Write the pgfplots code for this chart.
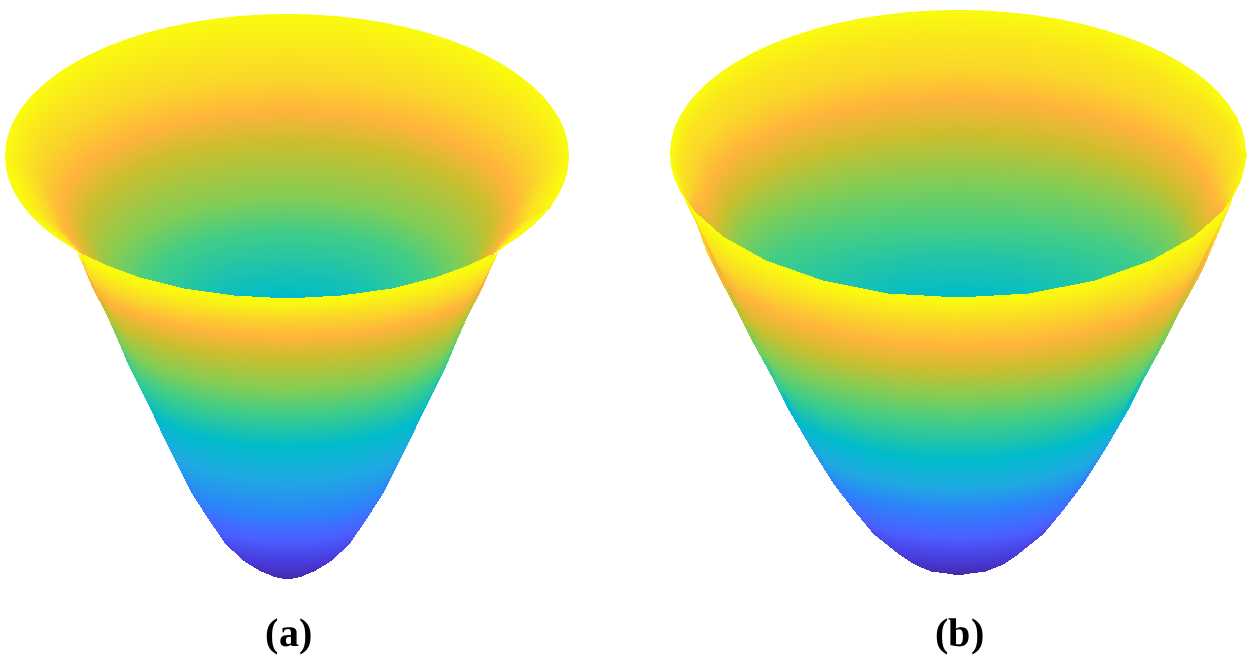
\documentclass[border=0pt]{standalone}
\usepackage{fontspec}
\setmainfont{Liberation Serif}
\usepackage{pgfplots}
\pgfplotsset{compat=1.18}
\definecolor{rimy}{RGB}{250,250,15}
\pgfplotsset{
  colormap={bowl}{
    rgb255(0)=(70,40,170) rgb255(6)=(72,60,220) rgb255(12)=(75,95,255)
    rgb255(20)=(45,130,250) rgb255(35)=(30,170,225) rgb255(45)=(0,187,203)
    rgb255(55)=(65,205,135) rgb255(65)=(130,205,85) rgb255(75)=(205,190,45)
    rgb255(85)=(255,180,60) rgb255(93)=(250,215,40) rgb255(100)=(250,250,15)
  },
}
\begin{document}
\begin{tikzpicture}
\begin{axis}[
    scale only axis,
    width=1250pt, height=658pt,
    xmin=0, xmax=1250, ymin=0, ymax=658, zmin=0, zmax=1,
    y dir=reverse,
    view={0}{90},
    hide axis,
    clip=false,
    colormap name=bowl,
    point meta min=0, point meta max=1,
]
\path (axis cs:0,0,0) rectangle (axis cs:1250,658,0);
% (a) rim
\addplot3[draw=none, fill=rimy] coordinates {
(5,156,1) (6.1,143.6,1) (9.2,131.3,1) (14.6,119.2,1) (22,107.4,1) (31.4,96,1) (42.8,85,1) (56,74.6,1) (71,64.7,1) (87.6,55.6,1) (105.7,47.2,1) (125.2,39.7,1) (146,33,1) (167.8,27.3,1) (190.6,22.5,1) (214,18.8,1) (238,16.1,1) (262.4,14.5,1) (287,14,1)
(311.6,14.5,1) (336,16.1,1) (360,18.8,1) (383.4,22.5,1) (406.2,27.3,1) (428,33,1) (448.8,39.7,1) (468.3,47.2,1) (486.4,55.6,1) (503,64.7,1) (518,74.6,1) (531.2,85,1) (542.6,96,1) (552,107.4,1) (559.4,119.2,1) (564.8,131.3,1) (567.9,143.6,1) (569,156,1)
(567.9,168.4,1) (564.8,180.7,1) (559.4,192.8,1) (552,204.6,1) (542.6,216,1) (531.2,227,1) (518,237.4,1) (503,247.3,1) (486.4,256.4,1) (468.3,264.8,1) (448.8,272.3,1) (428,279,1) (406.2,284.7,1) (383.4,289.5,1) (360,293.2,1) (336,295.9,1) (311.6,297.5,1) (287,298,1)
(262.4,297.5,1) (238,295.9,1) (214,293.2,1) (190.6,289.5,1) (167.8,284.7,1) (146,279,1) (125.2,272.3,1) (105.7,264.8,1) (87.6,256.4,1) (71,247.3,1) (56,237.4,1) (42.8,227,1) (31.4,216,1) (22,204.6,1) (14.6,192.8,1) (9.2,180.7,1) (6.1,168.4,1)
};
% (a) inside of the bowl
\addplot3[surf, shader=interp, mesh/cols=17] coordinates {
(78,252,1) (24,207,1) (5,156,1) (15,119,1) (43,85,1) (88,56,1) (146,33,1) (214,19,1) (287,14,1) (360,19,1) (428,33,1) (486,56,1) (531,85,1) (559,119,1) (569,156,1) (550,207,1) (496,252,1)
(79,252,.96) (42,215,.96) (22,165,.96) (31,135,.96) (57.5,107.5,.96) (100,83.7,.96) (154.5,65.4,.96) (218.4,53.9,.96) (287,50,.96) (355.6,53.9,.96) (419.5,65.4,.96) (474,83.7,.96) (516.5,107.5,.96) (543,135,.96) (552,165,.96) (532,215,.96) (495,252,.96)
(80,252,.93) (51,220,.93) (37,175,.93) (45.5,149.9,.93) (70.5,126.5,.93) (110.2,106.4,.93) (162,91,.93) (222.2,81.3,.93) (287,78,.93) (351.8,81.3,.93) (412,91,.93) (463.8,106.4,.93) (503.5,126.5,.93) (528.5,149.9,.93) (537,175,.93) (523,220,.93) (494,252,.93)
(82,254,.85) (67,232,.85) (62,205,.85) (69.6,180.4,.85) (92.1,157.5,.85) (128,137.8,.85) (174.5,122.7,.85) (228.7,113.2,.85) (287,110,.85) (345.3,113.2,.85) (399.5,122.7,.85) (446,137.8,.85) (481.9,157.5,.85) (504.4,180.4,.85) (512,205,.85) (507,232,.85) (492,254,.85)
(95,263,.75) (87,245,.75) (82,225,.75) (89,203,.75) (109.5,182.5,.75) (142,164.9,.75) (184.5,151.4,.75) (233.9,142.9,.75) (287,140,.75) (340.1,142.9,.75) (389.5,151.4,.75) (432,164.9,.75) (464.5,182.5,.75) (485,203,.75) (492,225,.75) (487,245,.75) (479,263,.75)
(112,274,.65) (112,273,.65) (112,272,.65) (118,252.6,.65) (135.4,234.5,.65) (163.3,219,.65) (199.5,207,.65) (241.7,199.6,.65) (287,197,.65) (332.3,199.6,.65) (374.5,207,.65) (410.7,219,.65) (438.6,234.5,.65) (456,252.6,.65) (462,272,.65) (462,273,.65) (462,274,.65)
(150,287,.55) (150,286,.55) (150,285,.55) (154.7,270.8,.55) (168.4,257.5,.55) (190.1,246.1,.55) (218.5,237.4,.55) (251.5,231.9,.55) (287,230,.55) (322.5,231.9,.55) (355.5,237.4,.55) (383.9,246.1,.55) (405.6,257.5,.55) (419.3,270.8,.55) (424,285,.55) (424,286,.55) (424,287,.55)
(195,296,.5) (195,295,.5) (195,294,.5) (198.1,286,.5) (207.3,278.5,.5) (222,272.1,.5) (241,267.2,.5) (263.2,264.1,.5) (287,263,.5) (310.8,264.1,.5) (333,267.2,.5) (352,272.1,.5) (366.7,278.5,.5) (375.9,286,.5) (379,294,.5) (379,295,.5) (379,296,.5)
(247,302,.45) (247,301,.45) (247,300,.45) (248.4,299.5,.45) (252.4,299,.45) (258.7,298.6,.45) (267,298.3,.45) (276.6,298.1,.45) (287,298,.45) (297.4,298.1,.45) (307,298.3,.45) (315.3,298.6,.45) (321.6,299,.45) (325.6,299.5,.45) (327,300,.45) (327,301,.45) (327,302,.45)
};
% (a) outside of the bowl
\addplot3[surf, shader=interp, mesh/cols=13] coordinates {
(281,577,0) (281.2,577.3,0) (281.8,577.5,0) (282.8,577.7,0) (284,577.9,0) (285.4,578,0) (287,578,0) (288.6,578,0) (290,577.9,0) (291.2,577.7,0) (292.2,577.5,0) (292.8,577.3,0) (293,577,0)
(273,575.5,.01) (273.5,575.9,.01) (274.9,576.3,.01) (277.1,576.6,.01) (280,576.8,.01) (283.4,576.9,.01) (287,577,.01) (290.6,576.9,.01) (294,576.8,.01) (296.9,576.6,.01) (299.1,576.3,.01) (300.5,575.9,.01) (301,575.5,.01)
(257,568,.02) (258,569.3,.02) (261,570.5,.02) (265.8,571.5,.02) (272,572.3,.02) (279.2,572.8,.02) (287,573,.02) (294.8,572.8,.02) (302,572.3,.02) (308.2,571.5,.02) (313,570.5,.02) (316,569.3,.02) (317,568,.02)
(240,557,.05) (241.6,559.3,.05) (246.3,561.5,.05) (253.8,563.4,.05) (263.5,564.8,.05) (274.8,565.7,.05) (287,566,.05) (299.2,565.7,.05) (310.5,564.8,.05) (320.2,563.4,.05) (327.7,561.5,.05) (332.4,559.3,.05) (334,557,.05)
(223,540,.09) (225.2,542.6,.09) (231.6,545,.09) (241.8,547.1,.09) (255,548.7,.09) (270.4,549.7,.09) (287,550,.09) (303.6,549.7,.09) (319,548.7,.09) (332.2,547.1,.09) (342.4,545,.09) (348.8,542.6,.09) (351,540,.09)
(203,510,.15) (205.9,514.9,.15) (214.3,519.5,.15) (227.6,523.4,.15) (245,526.5,.15) (265.2,528.4,.15) (287,529,.15) (308.8,528.4,.15) (329,526.5,.15) (346.4,523.4,.15) (359.7,519.5,.15) (368.1,514.9,.15) (371,510,.15)
(187,482,.22) (190.4,489.5,.22) (200.4,496.5,.22) (216.3,502.5,.22) (237,507.1,.22) (261.1,510,.22) (287,511,.22) (312.9,510,.22) (337,507.1,.22) (357.7,502.5,.22) (373.6,496.5,.22) (383.6,489.5,.22) (387,482,.22)
(173,455,.32) (176.9,463,.32) (188.3,470.5,.32) (206.4,476.9,.32) (230,481.8,.32) (257.5,484.9,.32) (287,486,.32) (316.5,484.9,.32) (344,481.8,.32) (367.6,476.9,.32) (385.7,470.5,.32) (397.1,463,.32) (401,455,.32)
(161,430,.38) (165.3,439.8,.38) (177.9,449,.38) (197.9,456.9,.38) (224,462.9,.38) (254.4,466.7,.38) (287,468,.38) (319.6,466.7,.38) (350,462.9,.38) (376.1,456.9,.38) (396.1,449,.38) (408.7,439.8,.38) (413,430,.38)
(149,405,.45) (153.7,415.9,.45) (167.5,426,.45) (189.4,434.7,.45) (218,441.4,.45) (251.3,445.6,.45) (287,447,.45) (322.7,445.6,.45) (356,441.4,.45) (384.6,434.7,.45) (406.5,426,.45) (420.3,415.9,.45) (425,405,.45)
(123,350,.55) (128.6,366.3,.55) (145,381.5,.55) (171.1,394.5,.55) (205,404.6,.55) (244.5,410.9,.55) (287,413,.55) (329.5,410.9,.55) (369,404.6,.55) (402.9,394.5,.55) (429,381.5,.55) (445.4,366.3,.55) (451,350,.55)
(112,322,.65) (118,339.6,.65) (135.4,356,.65) (163.3,370.1,.65) (199.5,380.9,.65) (241.7,387.7,.65) (287,390,.65) (332.3,387.7,.65) (374.5,380.9,.65) (410.7,370.1,.65) (438.6,356,.65) (456,339.6,.65) (462,322,.65)
(100,297,.75) (106.4,312.5,.75) (125.1,327,.75) (154.8,339.4,.75) (193.5,349,.75) (238.6,355,.75) (287,357,.75) (335.4,355,.75) (380.5,349,.75) (419.2,339.4,.75) (448.9,327,.75) (467.6,312.5,.75) (474,297,.75)
(86,272,.85) (92.8,288.8,.85) (112.9,304.5,.85) (144.9,318,.85) (186.5,328.3,.85) (234.9,334.8,.85) (287,337,.85) (339.1,334.8,.85) (387.5,328.3,.85) (429.1,318,.85) (461.1,304.5,.85) (481.2,288.8,.85) (488,272,.85)
(82,262,.93) (89,276.5,.93) (109.5,290,.93) (142.1,301.6,.93) (184.5,310.5,.93) (233.9,316.1,.93) (287,318,.93) (340.1,316.1,.93) (389.5,310.5,.93) (431.9,301.6,.93) (464.5,290,.93) (485,276.5,.93) (492,262,.93)
(79,257,1) (86,260,1) (107,270,1) (140,282,1) (183,292,1) (233,299,1) (287,303,1) (341,299,1) (391,292,1) (434,282,1) (467,270,1) (488,260,1) (495,257,1)
(78,253,1) (85,255,1) (106,265,1) (139,277,1) (182.5,288,1) (233,295,1) (287,298,1) (341,295,1) (391.5,288,1) (435,277,1) (468,265,1) (489,255,1) (496,253,1)
};
% (b) rim
\addplot3[draw=none, fill=rimy] coordinates {
(670,153.5,1) (671.1,141,1) (674.3,128.5,1) (679.8,116.4,1) (687.4,104.4,1) (697,92.9,1) (708.6,81.7,1) (722.1,71.2,1) (737.4,61.2,1) (754.4,52,1) (772.8,43.6,1) (792.8,36,1) (814,29.2,1) (836.3,23.4,1) (859.5,18.6,1) (883.5,14.9,1) (908,12.1,1) (932.9,10.5,1) (958,10,1)
(983.1,10.5,1) (1008,12.1,1) (1032.5,14.9,1) (1056.5,18.6,1) (1079.7,23.4,1) (1102,29.2,1) (1123.2,36,1) (1143.2,43.6,1) (1161.6,52,1) (1178.6,61.2,1) (1193.9,71.2,1) (1207.4,81.7,1) (1219,92.9,1) (1228.6,104.4,1) (1236.2,116.4,1) (1241.7,128.5,1) (1244.9,141,1) (1246,153.5,1)
(1244.9,166,1) (1241.7,178.5,1) (1236.2,190.6,1) (1228.6,202.6,1) (1219,214.1,1) (1207.4,225.3,1) (1193.9,235.8,1) (1178.6,245.8,1) (1161.6,255,1) (1143.2,263.4,1) (1123.2,271,1) (1102,277.8,1) (1079.7,283.6,1) (1056.5,288.4,1) (1032.5,292.1,1) (1008,294.9,1) (983.1,296.5,1) (958,297,1)
(932.9,296.5,1) (908,294.9,1) (883.5,292.1,1) (859.5,288.4,1) (836.3,283.6,1) (814,277.8,1) (792.8,271,1) (772.8,263.4,1) (754.4,255,1) (737.4,245.8,1) (722.1,235.8,1) (708.6,225.3,1) (697,214.1,1) (687.4,202.6,1) (679.8,190.6,1) (674.3,178.5,1) (671.1,166,1)
};
% (b) inside of the bowl
\addplot3[surf, shader=interp, mesh/cols=17] coordinates {
(685,199,1) (676,180,1) (670,153.5,1) (679.8,116.3,1) (708.6,81.8,1) (754.4,52,1) (814,29.2,1) (883.4,14.9,1) (958,10,1) (1032.6,14.9,1) (1102,29.2,1) (1161.6,52,1) (1207.4,81.8,1) (1236.2,116.3,1) (1246,153.5,1) (1240,180,1) (1231,199,1)
(686,201,.96) (682,185,.96) (678,160,.96) (687.5,128.4,.96) (715.5,99,.96) (760,73.7,.96) (818,54.3,.96) (885.5,42.1,.96) (958,38,.96) (1030.5,42.1,.96) (1098,54.3,.96) (1156,73.7,.96) (1200.5,99,.96) (1228.5,128.4,.96) (1238,160,.96) (1234,185,.96) (1230,201,.96)
(687,203,.93) (690,190,.93) (690,175,.93) (699.1,147,.93) (725.9,121,.93) (768.5,98.6,.93) (824,81.5,.93) (888.6,70.7,.93) (958,67,.93) (1027.4,70.7,.93) (1092,81.5,.93) (1147.5,98.6,.93) (1190.1,121,.93) (1216.9,147,.93) (1226,175,.93) (1226,190,.93) (1229,203,.93)
(690,210,.85) (696,208,.85) (703,205,.85) (711.7,177,.85) (737.2,151,.85) (777.7,128.6,.85) (830.5,111.5,.85) (892,100.7,.85) (958,97,.85) (1024,100.7,.85) (1085.5,111.5,.85) (1138.3,128.6,.85) (1178.8,151,.85) (1204.3,177,.85) (1213,205,.85) (1220,208,.85) (1226,210,.85)
(712,234,.75) (715,231,.75) (718,228,.75) (726.2,203.4,.75) (750.2,180.5,.75) (788.3,160.8,.75) (838,145.7,.75) (895.8,136.2,.75) (958,133,.75) (1020.2,136.2,.75) (1078,145.7,.75) (1127.7,160.8,.75) (1165.8,180.5,.75) (1189.8,203.4,.75) (1198,228,.75) (1201,231,.75) (1204,234,.75)
(736,252,.65) (736,251,.65) (736,250,.65) (743.5,231.9,.65) (765.7,215,.65) (801,200.5,.65) (847,189.4,.65) (900.5,182.4,.65) (958,180,.65) (1015.5,182.4,.65) (1069,189.4,.65) (1115,200.5,.65) (1150.3,215,.65) (1172.5,231.9,.65) (1180,250,.65) (1180,251,.65) (1180,252,.65)
(771,269,.55) (771,268,.55) (771,267,.55) (777.4,257.4,.55) (796.1,248.5,.55) (825.8,240.8,.55) (864.5,235,.55) (909.6,231.3,.55) (958,230,.55) (1006.4,231.3,.55) (1051.5,235,.55) (1090.2,240.8,.55) (1119.9,248.5,.55) (1138.6,257.4,.55) (1145,267,.55) (1145,268,.55) (1145,269,.55)
(838,290,.5) (838,289,.5) (838,288,.5) (842.1,280.2,.5) (854.1,273,.5) (873.2,266.8,.5) (898,262,.5) (926.9,259,.5) (958,258,.5) (989.1,259,.5) (1018,262,.5) (1042.8,266.8,.5) (1061.9,273,.5) (1073.9,280.2,.5) (1078,288,.5) (1078,289,.5) (1078,290,.5)
(918,301,.45) (918,300,.45) (918,299,.45) (919.4,298.5,.45) (923.4,298,.45) (929.7,297.6,.45) (938,297.3,.45) (947.6,297.1,.45) (958,297,.45) (968.4,297.1,.45) (978,297.3,.45) (986.3,297.6,.45) (992.6,298,.45) (996.6,298.5,.45) (998,299,.45) (998,300,.45) (998,301,.45)
};
% (b) outside of the bowl
\addplot3[surf, shader=interp, mesh/cols=13] coordinates {
(952,573,0) (952.2,573.3,0) (952.8,573.5,0) (953.8,573.7,0) (955,573.9,0) (956.4,574,0) (958,574,0) (959.6,574,0) (961,573.9,0) (962.2,573.7,0) (963.2,573.5,0) (963.8,573.3,0) (964,573,0)
(947,572.5,.005) (947.4,572.7,.005) (948.5,572.9,.005) (950.2,573.1,.005) (952.5,573.2,.005) (955.2,573.3,.005) (958,573.3,.005) (960.8,573.3,.005) (963.5,573.2,.005) (965.8,573.1,.005) (967.5,572.9,.005) (968.6,572.7,.005) (969,572.5,.005)
(930,570,.015) (931,570.5,.015) (933.8,571,.015) (938.2,571.4,.015) (944,571.7,.015) (950.7,571.9,.015) (958,572,.015) (965.3,571.9,.015) (972,571.7,.015) (977.8,571.4,.015) (982.2,571,.015) (985,570.5,.015) (986,570,.015)
(913,563,.024) (914.5,564.4,.024) (919,565.8,.024) (926.2,566.9,.024) (935.5,567.8,.024) (946.3,568.3,.024) (958,568.5,.024) (969.7,568.3,.024) (980.5,567.8,.024) (989.8,566.9,.024) (997,565.8,.024) (1001.5,564.4,.024) (1003,563,.024)
(897,552,.056) (899.1,554.3,.056) (905.2,556.5,.056) (914.9,558.4,.056) (927.5,559.8,.056) (942.2,560.7,.056) (958,561,.056) (973.8,560.7,.056) (988.5,559.8,.056) (1001.1,558.4,.056) (1010.8,556.5,.056) (1016.9,554.3,.056) (1019,552,.056)
(870,528,.089) (873,533.4,.089) (881.8,538.5,.089) (895.8,542.8,.089) (914,546.2,.089) (935.2,548.3,.089) (958,549,.089) (980.8,548.3,.089) (1002,546.2,.089) (1020.2,542.8,.089) (1034.2,538.5,.089) (1043,533.4,.089) (1046,528,.089)
(850,503,.14) (853.7,510.3,.14) (864.5,517,.14) (881.6,522.8,.14) (904,527.2,.14) (930,530,.14) (958,531,.14) (986,530,.14) (1012,527.2,.14) (1034.4,522.8,.14) (1051.5,517,.14) (1062.3,510.3,.14) (1066,503,.14)
(830,475,.2) (834.4,484.1,.2) (847.2,492.5,.2) (867.5,499.7,.2) (894,505.3,.2) (924.8,508.8,.2) (958,510,.2) (991.2,508.8,.2) (1022,505.3,.2) (1048.5,499.7,.2) (1068.8,492.5,.2) (1081.6,484.1,.2) (1086,475,.2)
(815,450,.3) (819.9,461.7,.3) (834.2,472.5,.3) (856.9,481.8,.3) (886.5,489,.3) (921,493.5,.3) (958,495,.3) (995,493.5,.3) (1029.5,489,.3) (1059.1,481.8,.3) (1081.8,472.5,.3) (1096.1,461.7,.3) (1101,450,.3)
(805,432,.35) (810.2,446.2,.35) (825.5,459.5,.35) (849.8,470.9,.35) (881.5,479.6,.35) (918.4,485.1,.35) (958,487,.35) (997.6,485.1,.35) (1034.5,479.6,.35) (1066.2,470.9,.35) (1090.5,459.5,.35) (1105.8,446.2,.35) (1111,432,.35)
(783,393,.45) (789,410.4,.45) (806.4,426.5,.45) (834.3,440.4,.45) (870.5,451,.45) (912.7,457.7,.45) (958,460,.45) (1003.3,457.7,.45) (1045.5,451,.45) (1081.7,440.4,.45) (1109.6,426.5,.45) (1127,410.4,.45) (1133,393,.45)
(764,358,.55) (770.6,374.8,.55) (790,390.5,.55) (820.8,404,.55) (861,414.3,.55) (907.8,420.8,.55) (958,423,.55) (1008.2,420.8,.55) (1055,414.3,.55) (1095.2,404,.55) (1126,390.5,.55) (1145.4,374.8,.55) (1152,358,.55)
(747,325,.65) (754.2,343.6,.65) (775.3,361,.65) (808.8,375.9,.65) (852.5,387.4,.65) (903.4,394.6,.65) (958,397,.65) (1012.6,394.6,.65) (1063.5,387.4,.65) (1107.2,375.9,.65) (1140.7,361,.65) (1161.8,343.6,.65) (1169,325,.65)
(727,285,.75) (734.9,307,.75) (758,327.5,.75) (794.7,345.1,.75) (842.5,358.6,.75) (898.2,367.1,.75) (958,370,.75) (1017.8,367.1,.75) (1073.5,358.6,.75) (1121.3,345.1,.75) (1158,327.5,.75) (1181.1,307,.75) (1189,285,.75)
(707,245,.85) (715.5,271.4,.85) (740.6,296,.85) (780.5,317.1,.85) (832.5,333.3,.85) (893,343.5,.85) (958,347,.85) (1023,343.5,.85) (1083.5,333.3,.85) (1135.5,317.1,.85) (1175.4,296,.85) (1200.5,271.4,.85) (1209,245,.85)
(697,225,.93) (705.9,250.1,.93) (732,273.5,.93) (773.5,293.6,.93) (827.5,309,.93) (890.4,318.7,.93) (958,322,.93) (1025.6,318.7,.93) (1088.5,309,.93) (1142.5,293.6,.93) (1184,273.5,.93) (1210.1,250.1,.93) (1219,225,.93)
(686,203,1) (695,215,1) (723,240,1) (766,264,1) (822,284,1) (887,297,1) (958,301,1) (1029,297,1) (1094,284,1) (1150,264,1) (1193,240,1) (1221,215,1) (1230,203,1)
(685,199,1) (694,211,1) (722,236,1) (765,260,1) (821.5,280,1) (887,292.5,1) (958,297,1) (1029,292.5,1) (1094.5,280,1) (1151,260,1) (1194,236,1) (1222,211,1) (1231,199,1)
};
\node[font=\fontsize{40}{40}\selectfont\bfseries] at (axis cs:289,637,1) {(a)};
\node[font=\fontsize{40}{40}\selectfont\bfseries] at (axis cs:960,637,1) {(b)};
\end{axis}
\end{tikzpicture}
\end{document}
